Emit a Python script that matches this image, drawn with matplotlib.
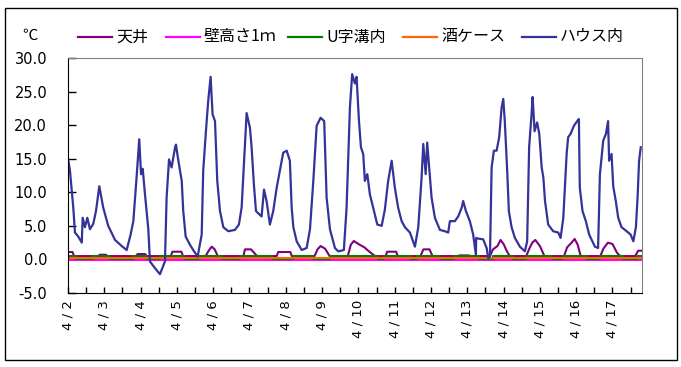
import numpy as np
from matplotlib import pyplot as plt
from matplotlib.patches import Rectangle
from matplotlib.lines import Line2D
from matplotlib.ticker import MultipleLocator, FormatStrFormatter

plt.rcParams['font.family'] = ['DejaVu Sans', 'Noto Sans CJK JP']

# hours since 4/2 0:00
day_labels = ['4 / 2', '4 / 3', '4 / 4', '4 / 5', '4 / 6', '4 / 7', '4 / 8', '4 / 9',
              '4 / 10', '4 / 11', '4 / 12', '4 / 13', '4 / 14', '4 / 15', '4 / 16', '4 / 17']

series_names = ['天井', '壁高さ1ｍ', 'U字溝内', '酒ケース', 'ハウス内']
series_colors = ['#800080', '#FF00FF', '#008000', '#FF6600', '#333399']

# ハウス内
house_h = [0, 1.3, 3.5, 4.6, 6.8, 9.1, 9.7, 11.2, 12.8, 14.5, 16.7, 18.5, 20.7, 23.3,
           26.6, 31.1, 35.5, 38.8, 41.4, 43.2, 45.4, 47.1, 48.3, 49.4, 50.9, 53.1, 54.2,
           57.5, 60.8, 64.1, 65.2, 66.8, 68.5, 70.8, 71.4, 72.9, 75.2, 76.2, 77.8, 80.6,
           82.8, 85.7, 88.4, 89.4, 91.2, 92.7, 94.3, 95.6, 97.2, 98.7, 100.5, 102.7, 106.0,
           110.4, 113.0, 114.8, 116.3, 118.1, 120.3, 121.4, 122.9, 124.3, 128.0, 129.6,
           131.3, 133.5, 135.7, 138.0, 140.1, 142.3, 144.6, 146.7, 147.9, 149.0, 151.2,
           154.5, 157.8, 160.0, 162.2, 164.4, 167.0, 169.4, 171.0, 173.2, 176.5, 178.7,
           182.4, 184.2, 186.4, 187.9, 189.7, 190.8, 192.4, 193.7, 195.2, 196.3, 197.9,
           199.6, 201.8, 204.5, 207.4, 209.5, 211.7, 214.0, 216.1, 218.3, 220.6, 222.8,
           226.1, 229.4, 231.6, 233.8, 234.9, 236.5, 237.5, 238.8, 240.4, 242.6, 245.9,
           249.2, 251.4, 252.5, 255.8, 258.0, 260.3, 261.3, 263.1, 265.7, 267.9, 269.7,
           269.9, 271.2, 274.5, 276.8, 277.9, 279.0, 280.1, 281.6, 283.4, 285.1, 286.7,
           287.8, 288.8, 290.4, 291.5, 293.3, 295.5, 298.8, 302.1, 303.6, 304.9, 306.5,
           307.2, 308.5, 310.2, 311.6, 313.2, 314.3, 315.4, 317.5, 320.8, 324.2, 325.7,
           327.5, 329.7, 330.7, 332.3, 334.5, 336.7, 337.8, 338.4, 340.2, 342.4, 344.6,
           348.4, 350.5, 351.7, 353.9, 355.7, 357.1, 357.8, 359.4, 360.5, 362.2, 363.8,
           366.0, 369.4, 372.0, 373.8, 375.5, 376.6, 377.6, 378.7]
house_t = [15.0, 13.2, 7.7, 4.0, 3.4, 2.5, 6.2, 4.8, 6.2, 4.5, 5.3, 7.2, 10.9, 7.7,
           5.0, 2.9, 2.0, 1.4, 3.7, 5.7, 12.4, 17.9, 12.7, 13.5, 9.7, 4.5, -0.3,
           -1.3, -2.2, -0.3, 9.2, 14.9, 13.7, 16.7, 17.1, 14.8, 11.7, 7.2, 3.4, 2.2,
           1.4, 0.4, 3.7, 13.2, 19.1, 23.6, 27.2, 21.6, 20.6, 11.7, 7.2, 4.8, 4.2,
           4.4, 5.2, 7.7, 14.2, 21.8, 19.6, 16.7, 11.2, 7.2, 6.4, 10.4,
           8.7, 5.2, 7.2, 10.7, 13.2, 15.9, 16.2, 14.7, 7.7, 4.8, 2.7,
           1.4, 1.7, 4.5, 11.7, 19.9, 21.1, 20.6, 9.2, 4.5, 1.7, 1.2,
           1.4, 7.7, 22.6, 27.6, 26.2, 27.2, 20.6, 16.7, 15.7, 11.7, 12.7,
           9.7, 7.7, 5.2, 5.0, 7.4, 11.7, 14.7, 10.7, 7.7, 5.7, 4.8,
           4.0, 1.9, 4.8, 12.2, 17.2, 12.7, 17.4, 13.7, 9.2, 6.2, 4.4,
           4.2, 4.0, 5.7, 5.7, 6.4, 7.7, 8.7, 7.2, 5.7, 3.7, 0.7,
           3.2, 3.1, 3.0, 1.7, 0.2, 0.4, 13.7, 16.2, 16.2, 18.2, 22.6,
           23.9, 20.6, 13.2, 7.2, 4.8, 3.2, 1.9, 1.2, 2.7, 16.7, 21.6,
           24.2, 19.1, 20.4, 18.7, 13.7, 12.2, 8.7, 5.2, 4.2, 4.0, 3.2,
           6.2, 15.7, 18.2, 18.7, 19.9, 20.6, 20.9, 10.7, 7.2, 5.7, 3.7,
           1.9, 1.7, 12.7, 17.7, 18.7, 20.6, 14.7, 15.7, 10.9, 8.7, 6.2,
           4.8, 4.2, 3.7, 2.7, 4.8, 9.2, 14.7, 16.7]

# 天井
ceil_h = [0, 3, 4, 20, 21, 25, 26, 45, 46, 51, 52, 68, 69, 75, 76, 91, 93, 95, 97, 99,
          116, 117, 121, 123, 125, 138, 139, 147, 148, 163, 165, 167, 170, 173, 185, 187,
          189, 192, 196, 199, 203, 210, 211, 217, 218, 233, 235, 239, 241, 258, 259, 265,
          266, 279, 281, 284, 286, 288, 290, 292, 303, 305, 307, 309, 312, 315, 328, 330,
          333, 335, 337, 339, 352, 354, 357, 360, 363, 365, 375, 377, 379]
ceil_t = [1.1, 1.1, 0.5, 0.5, 0.7, 0.7, 0.5, 0.5, 0.8, 0.8, 0.5, 0.5, 1.15, 1.15, 0.5,
          0.5, 1.3, 1.9, 1.5, 0.5, 0.5, 1.5, 1.5, 1.0, 0.5, 0.5, 1.1, 1.1, 0.5, 0.5, 1.5,
          2.0, 1.6, 0.5, 0.5, 2.2, 2.75, 2.3, 1.8, 1.2, 0.5, 0.5, 1.15, 1.15, 0.5, 0.5,
          1.5, 1.5, 0.5, 0.5, 0.6, 0.6, 0.5, 0.5, 1.5, 2.0, 2.9, 2.3, 1.3, 0.5, 0.5, 1.6,
          2.5, 2.9, 2.0, 0.5, 0.5, 1.8, 2.5, 3.05, 2.2, 0.5, 0.5, 1.6, 2.5, 2.3, 1.0, 0.5,
          0.5, 1.3, 1.3]

# 壁高さ1ｍ
wall_h = [0, 379]
wall_t = [-0.05, -0.05]

# U字溝内 (step data)
ditch_h = [0, 5, 16, 28, 43, 52, 61, 77, 87, 102, 114, 135, 149, 162, 173, 205, 209,
           227, 231, 246, 255, 272, 281, 294, 303, 320, 327, 343, 352, 367, 376, 379]
ditch_t = [0.55, 0.1, 0.55, 0.1, 0.55, 0.1, 0.55, 0.1, 0.55, 0.1, 0.55, 0.1, 0.55, 0.1,
           0.55, 0.1, 0.55, 0.1, 0.55, 0.1, 0.55, 0.1, 0.55, 0.1, 0.55, 0.1, 0.55, 0.1,
           0.55, 0.1, 0.55, 0.55]

# 酒ケース
sake_h = [0, 379]
sake_t = [0.28, 0.28]

W, H = 681, 367
fig = plt.figure(figsize=(W / 100, H / 100), dpi=100)
ax = fig.add_axes([68 / W, 1 - 293 / H, (641.5 - 68) / W, (293 - 58) / H])

lw = 1.5
ax.plot(ceil_h, ceil_t, color=series_colors[0], lw=lw)
ax.plot(wall_h, wall_t, color=series_colors[1], lw=lw)
ax.plot(ditch_h, ditch_t, color=series_colors[2], lw=lw, drawstyle='steps-post')
ax.plot(sake_h, sake_t, color=series_colors[3], lw=lw)
ax.plot(house_h, house_t, color=series_colors[4], lw=1.6)

ax.set_xlim(0, 379.2)
ax.set_ylim(-5, 30)
ax.yaxis.set_major_locator(MultipleLocator(5))
ax.yaxis.set_major_formatter(FormatStrFormatter('%.1f'))
ax.set_xticks(np.arange(len(day_labels)) * 24)
ax.set_xticklabels(day_labels, rotation=90, va='top', ha='center', fontsize=9.5)
ax.xaxis.set_minor_locator(MultipleLocator(12))
ax.tick_params(axis='y', direction='in', length=6, width=1, pad=15, labelsize=10.5)
ax.tick_params(axis='x', which='both', direction='in', length=4, width=1, pad=5)

for s in ['top', 'right']:
    ax.spines[s].set_color('#808080')
for s in ['left', 'bottom']:
    ax.spines[s].set_color('black')

# legend row, placed in figure pixels
legend_x = [78, 166, 288, 403, 522]
to_fig = lambda px, py: (px / W, 1 - py / H)
for x0, name, c in zip(legend_x, series_names, series_colors):
    (fx0, fy), (fx1, _) = to_fig(x0, 37), to_fig(x0 + 34, 37)
    fig.add_artist(Line2D([fx0, fx1], [fy, fy], color=c, lw=1.6,
                          transform=fig.transFigure))
    fig.text(*to_fig(x0 + 38, 37), name, ha='left', va='center', fontsize=11.5,
             family=['Noto Sans CJK JP', 'DejaVu Sans'])
fig.text(*to_fig(30, 35), '℃', ha='center', va='center', fontsize=11,
         family=['Noto Sans CJK JP', 'DejaVu Sans'])

fig.patches.append(Rectangle((5 / W, 1 - 360 / H), 672 / W, 352 / H, fill=False,
                             edgecolor='black', lw=1, transform=fig.transFigure))

plt.savefig('out.png', dpi=100)
